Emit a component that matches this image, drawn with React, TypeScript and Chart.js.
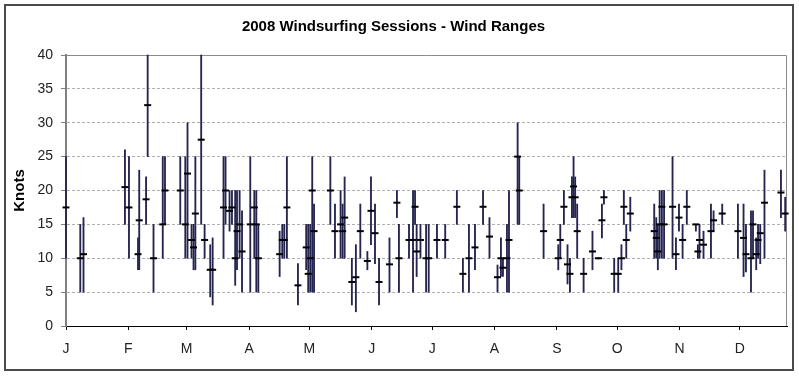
import React, { useEffect, useRef } from 'react';
import { Chart, registerables } from 'chart.js';

Chart.register(...registerables);

const CHART_TITLE = '2008 Windsurfing Sessions - Wind Ranges';
const Y_TITLE = 'Knots';
const MONTH_LABELS = ['J', 'F', 'M', 'A', 'M', 'J', 'J', 'A', 'S', 'O', 'N', 'D'];
const MONTH_START_DAYS = [0, 31, 60, 91, 121, 152, 182, 213, 244, 274, 305, 335];
const Y_TICKS = [0, 5, 10, 15, 20, 25, 30, 35, 40];

// day of year (0 = Jan 1, 2008)
const SESSION_DAYS = [
  0, 7.1, 8.7, 29.3, 31.3, 35.8, 36.4, 39.8, 40.6, 43.5,
  48.1, 49.2, 56.8, 59.3, 60.4, 62.4, 63.4, 64.3, 67.2, 68.9,
  71.7, 72.9, 78.3, 79.3, 81.3, 82.5, 84.1, 85, 86.3, 87.5,
  91.6, 93.6, 94.6, 95.6, 106.2, 107.5, 108.5, 109.8, 115.3, 119.4,
  120.4, 121.4, 122.4, 123.3, 131.4, 133.7, 136.5, 137.5, 138.5, 142.1,
  144.1, 146.3, 149.8, 151.6, 153.6, 155.6, 160.8, 164.5, 165.5, 170.5,
  172.5, 173.5, 174.3, 176.2, 179, 180.3, 184.4, 188.5, 194.3, 197.3,
  200.3, 203.3, 207.3, 210.5, 214.5, 216.2, 217.2, 219.2, 220.2, 224.5,
  225.3, 237.4, 244.7, 245.7, 247.5, 249.3, 250.5, 251.5, 252.3, 253.1,
  254.1, 257.3, 261.7, 264.7, 266.4, 267.4, 272.5, 274.5, 276.1, 277.3,
  278.5, 280.5, 292.4, 293.4, 294.2, 295.1, 296.2, 297.3, 301.5, 303.2,
  304.7, 306.5, 308.6, 313.1, 314.1, 314.9, 316.9, 320.6, 321.9, 326.2,
  334, 336.8, 338, 340.5, 341.5, 343.1, 344, 345.1, 347.2, 355.4,
  357.5,
];

const WIND_LOW = [
  10, 5, 5, 15, 10, 8.3, 8.3, 15, 25, 5,
  10, 15, 15, 10, 10, 10, 8.3, 8.3, 15, 10,
  4.3, 3.1, 10, 15, 14, 15, 6, 8.3, 10, 5,
  5, 10, 5, 5, 7.3, 10, 10, 10, 3.1, 8.3,
  5, 5, 5, 5, 15, 10, 10, 10, 10, 3.1,
  2.1, 10, 8.3, 12, 9.2, 3.1, 5, 16, 5, 10,
  5, 15, 7.3, 10, 5, 5, 10, 10, 15, 5,
  5, 8.3, 15, 10, 5, 7.3, 7.3, 5, 5, 15,
  15, 10, 8.3, 10, 15, 6.2, 5, 16, 16, 16,
  10, 5, 8.3, 9.9, 13, 18, 5, 5, 8.3, 15,
  10, 14, 10, 10, 8.3, 10, 10, 10, 10, 8.3,
  14, 10, 15, 14, 10, 10, 10, 10, 14, 15,
  10, 7.3, 8, 5, 10, 8.3, 10, 9.2, 10, 16,
  14,
];

const WIND_HIGH = [
  25, 15, 16, 26, 25, 13, 23, 22, 40, 15,
  25, 25, 25, 25, 30, 15, 15, 25, 40, 15,
  12, 13, 25, 25, 20, 20, 20, 20, 20, 17,
  25, 20, 20, 15, 14, 15, 15, 25, 9.2, 15,
  15, 15, 25, 18, 25, 18, 20, 18, 22, 10,
  12, 18, 11, 22, 18, 10, 13, 20, 15, 15,
  20, 20, 15, 15, 15, 15, 15, 15, 20, 10,
  15, 15, 20, 16, 9, 13, 10, 15, 20, 30,
  25, 18, 12, 15, 20, 12, 10, 22, 25, 22,
  18, 10, 14, 10.1, 18, 20, 10, 10, 12, 20,
  15, 19, 18, 16, 15, 20, 20, 20, 25, 13,
  18, 15, 20, 15, 12, 15, 14, 18, 17, 18,
  18, 18, 15, 17, 17, 13, 15, 15, 23, 23,
  19,
];

const WIND_AVG = [
  17.5, 10, 10.6, 20.5, 17.5, 10.6, 15.6, 18.7, 32.6, 10,
  15, 20, 20, 15, 22.5, 12.7, 11.6, 16.6, 27.5, 12.7,
  8.3, 8.3, 17.5, 20, 17, 17.5, 10, 14, 15, 11,
  15, 17.5, 15, 10, 10.6, 12.7, 12.7, 17.5, 6, 11.6,
  7.7, 10, 20, 14, 20, 14, 15, 14, 16, 6.5,
  7.2, 14, 9.6, 17, 13.7, 6.5, 9.1, 18.2, 10, 12.7,
  12.7, 17.6, 11, 12.7, 10, 10, 12.7, 12.7, 17.6, 7.7,
  10, 11.6, 17.6, 13.2, 7.2, 10, 8.6, 10, 12.7, 25,
  20, 14, 10, 12.7, 17.6, 9.1, 7.7, 19, 20.6, 19,
  14, 7.7, 11, 10, 15.6, 19, 7.7, 7.7, 10, 17.6,
  12.7, 16.6, 14, 13, 11, 15, 17.6, 15, 17.6, 10.6,
  16, 12.7, 17.6, 15, 11, 12.7, 12, 14, 15.6, 16.6,
  14, 13, 10.6, 10, 15, 10.6, 12.7, 13.7, 18.2, 19.7,
  16.6,
];

const X_MAX_DAY = 358.4;

const FONT = 'Arial, "Liberation Sans", sans-serif';

const framePlugin = {
  id: 'frame',
  beforeDraw(chart: any) {
    const { ctx } = chart;
    ctx.save();
    ctx.fillStyle = '#ffffff';
    ctx.fillRect(0, 0, chart.width, chart.height);
    ctx.strokeStyle = '#4a4a4a';
    ctx.lineWidth = 2;
    ctx.strokeRect(5, 5, chart.width - 11, chart.height - 15);
    ctx.restore();
  },
  beforeDatasetsDraw(chart: any) {
    const { ctx, chartArea } = chart;
    const { left, right, top, bottom } = chartArea;
    ctx.save();
    ctx.strokeStyle = '#8a8a8a';
    ctx.lineWidth = 1;
    ctx.beginPath();
    ctx.moveTo(left, top + 0.5);
    ctx.lineTo(right - 0.5, top + 0.5);
    ctx.lineTo(right - 0.5, bottom);
    ctx.stroke();
    ctx.restore();
  },
};

export default function App() {
  const canvasRef = useRef<HTMLCanvasElement | null>(null);

  useEffect(() => {
    const canvas = canvasRef.current;
    if (!canvas) return;

    const ranges = SESSION_DAYS.map((d, i) => ({ x: d, y: [WIND_LOW[i], WIND_HIGH[i]] }));
    const avgs = SESSION_DAYS.map((d, i) => ({ x: d, y: WIND_AVG[i] }));

    const chart = new Chart(canvas, {
      type: 'bar',
      data: {
        datasets: [
          {
            type: 'bar',
            data: ranges as any,
            backgroundColor: '#25254f',
            borderWidth: 0,
            barThickness: 1.2,
            grouped: false,
            clip: false,
            order: 2,
          } as any,
          {
            type: 'scatter',
            data: avgs as any,
            pointStyle: 'line',
            radius: 3.5,
            borderWidth: 2,
            borderColor: '#000000',
            backgroundColor: '#000000',
            clip: false,
            order: 1,
          } as any,
        ],
      },
      options: {
        responsive: false,
        animation: false,
        layout: { padding: { left: 0, right: 12, top: 0, bottom: 0 } },
        plugins: {
          legend: { display: false },
          tooltip: { enabled: false },
          title: {
            display: true,
            text: CHART_TITLE,
            color: '#000000',
            font: { family: FONT, size: 15, weight: 'bold' },
            padding: { top: 18, bottom: 19 },
          },
        },
        scales: {
          x: {
            type: 'linear',
            min: 0,
            max: X_MAX_DAY,
            offset: false,
            afterFit(scale: any) {
              scale.height = 54;
            },
            afterBuildTicks(scale: any) {
              scale.ticks = MONTH_START_DAYS.map((v) => ({ value: v }));
            },
            grid: {
              offset: false,
              drawOnChartArea: false,
              drawTicks: true,
              tickLength: 4,
              tickColor: '#000000',
              color: '#000000',
            },
            border: { display: true, color: '#000000', width: 1 },
            ticks: {
              autoSkip: false,
              maxRotation: 0,
              padding: 11,
              color: '#222222',
              font: { family: FONT, size: 14 },
              callback: (value: any) => {
                const idx = MONTH_START_DAYS.indexOf(Number(value));
                return idx >= 0 ? MONTH_LABELS[idx] : '';
              },
            },
          },
          y: {
            type: 'linear',
            min: 0,
            max: 40,
            afterFit(scale: any) {
              scale.width = 66;
            },
            afterBuildTicks(scale: any) {
              scale.ticks = Y_TICKS.map((v) => ({ value: v }));
            },
            title: {
              display: true,
              text: Y_TITLE,
              color: '#000000',
              font: { family: FONT, size: 15, weight: 'bold' },
              padding: { top: 11, bottom: 0 },
            },
            grid: {
              drawTicks: true,
              tickLength: 5,
              tickColor: '#808080',
              tickBorderDash: [],
              lineWidth: 1,
              color: (ctx: any) =>
                ctx.tick && (ctx.tick.value === 0 || ctx.tick.value === 40) ? 'rgba(0,0,0,0)' : '#b0b0b0',
            },
            border: { display: true, color: '#808080', width: 2, dash: [3, 2] },
            ticks: {
              padding: 8,
              color: '#222222',
              font: { family: FONT, size: 14 },
            },
          },
        },
      } as any,
      plugins: [framePlugin],
    });

    return () => {
      chart.destroy();
    };
  }, []);

  return (
    <div style={{ position: 'fixed', left: 0, top: 0, width: 799, height: 380, background: '#fff' }}>
      <canvas ref={canvasRef} width={799} height={380} style={{ display: 'block' }} />
    </div>
  );
}
